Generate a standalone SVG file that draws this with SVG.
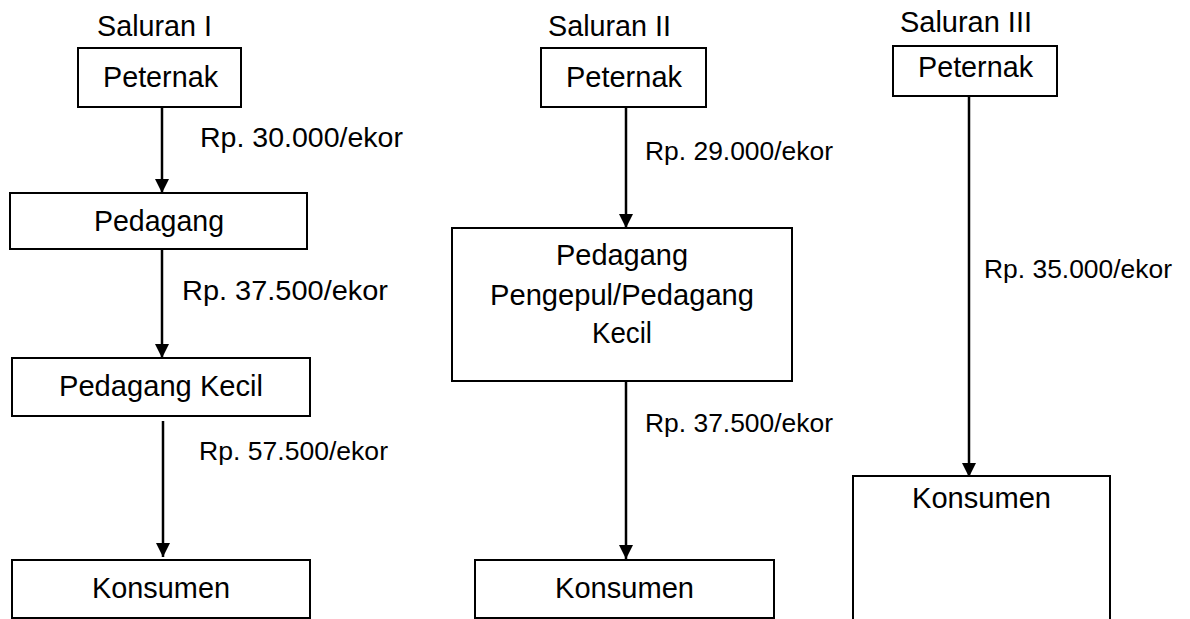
<svg xmlns="http://www.w3.org/2000/svg" width="1190" height="619" viewBox="0 0 1190 619">
<style>
  .box{fill:#fff;stroke:#000;stroke-width:2}
  .t{font-family:"Liberation Sans",Arial,sans-serif;font-size:29px;fill:#000}
  .lbl{font-family:"Liberation Sans",Arial,sans-serif;font-size:26.5px;fill:#000}
  .lbl2{font-family:"Liberation Sans",Arial,sans-serif;font-size:28.5px;fill:#000}
  .con{stroke:#000;stroke-width:2.5;fill:none;marker-end:url(#ah)}
</style>
<defs>
  <marker id="ah" markerUnits="userSpaceOnUse" markerWidth="14" markerHeight="14" refX="14" refY="7" orient="auto">
    <path d="M0,0 L14,7 L0,14 z" fill="#000"/>
  </marker>
</defs>
<rect width="1190" height="619" fill="#fff"/>

<g id="headers">
  <text class="t" x="97" y="36" textLength="115" lengthAdjust="spacingAndGlyphs">Saluran I</text>
  <text class="t" x="548" y="36" textLength="123" lengthAdjust="spacingAndGlyphs">Saluran II</text>
  <text class="t" x="900" y="32" textLength="132" lengthAdjust="spacingAndGlyphs">Saluran III</text>
</g>

<g id="connectors">
  <line class="con" x1="162" y1="107" x2="162" y2="193"/>
  <line class="con" x1="162" y1="249" x2="162" y2="358"/>
  <line class="con" x1="163" y1="421" x2="163" y2="557"/>
  <line class="con" x1="626" y1="104" x2="626" y2="228"/>
  <line class="con" x1="626" y1="378" x2="626" y2="559"/>
  <line class="con" x1="969" y1="96" x2="969" y2="477"/>
  <text class="lbl2" x="200" y="147" textLength="203" lengthAdjust="spacingAndGlyphs">Rp. 30.000/ekor</text>
  <text class="lbl2" x="182" y="300" textLength="206" lengthAdjust="spacingAndGlyphs">Rp. 37.500/ekor</text>
  <text class="lbl" x="199" y="460" textLength="189" lengthAdjust="spacingAndGlyphs">Rp. 57.500/ekor</text>
  <text class="lbl" x="645" y="160" textLength="188" lengthAdjust="spacingAndGlyphs">Rp. 29.000/ekor</text>
  <text class="lbl" x="645" y="432" textLength="188" lengthAdjust="spacingAndGlyphs">Rp. 37.500/ekor</text>
  <text class="lbl" x="984" y="278" textLength="188" lengthAdjust="spacingAndGlyphs">Rp. 35.000/ekor</text>
</g>

<g id="n1-peternak">
  <rect class="box" x="78" y="48" width="163" height="59"/>
  <text class="t" x="103" y="87" textLength="115" lengthAdjust="spacingAndGlyphs">Peternak</text>
</g>
<g id="n1-pedagang">
  <rect class="box" x="10" y="193" width="297" height="56"/>
  <text class="t" x="94" y="231" textLength="130" lengthAdjust="spacingAndGlyphs">Pedagang</text>
</g>
<g id="n1-pedagang-kecil">
  <rect class="box" x="12" y="358" width="298" height="58"/>
  <text class="t" x="59" y="396" textLength="204" lengthAdjust="spacingAndGlyphs">Pedagang Kecil</text>
</g>
<g id="n1-konsumen">
  <rect class="box" x="12" y="560" width="298" height="58"/>
  <text class="t" x="92" y="598" textLength="138" lengthAdjust="spacingAndGlyphs">Konsumen</text>
</g>

<g id="n2-peternak">
  <rect class="box" x="541" y="48" width="165" height="59"/>
  <text class="t" x="566" y="87" textLength="116" lengthAdjust="spacingAndGlyphs">Peternak</text>
</g>
<g id="n2-pengepul">
  <rect class="box" x="452" y="228" width="340" height="153"/>
  <text class="t" x="556" y="265" textLength="132" lengthAdjust="spacingAndGlyphs">Pedagang</text>
  <text class="t" x="490" y="305" textLength="264" lengthAdjust="spacingAndGlyphs">Pengepul/Pedagang</text>
  <text class="t" x="592" y="343" textLength="60" lengthAdjust="spacingAndGlyphs">Kecil</text>
</g>
<g id="n2-konsumen">
  <rect class="box" x="475" y="560" width="299" height="58"/>
  <text class="t" x="555" y="598" textLength="139" lengthAdjust="spacingAndGlyphs">Konsumen</text>
</g>

<g id="n3-peternak">
  <rect class="box" x="893" y="46" width="164" height="50"/>
  <text class="t" x="918" y="77" textLength="115" lengthAdjust="spacingAndGlyphs">Peternak</text>
</g>
<g id="n3-konsumen">
  <rect class="box" x="853" y="476" width="257" height="150"/>
  <text class="t" x="912" y="508" textLength="139" lengthAdjust="spacingAndGlyphs">Konsumen</text>
</g>
</svg>
